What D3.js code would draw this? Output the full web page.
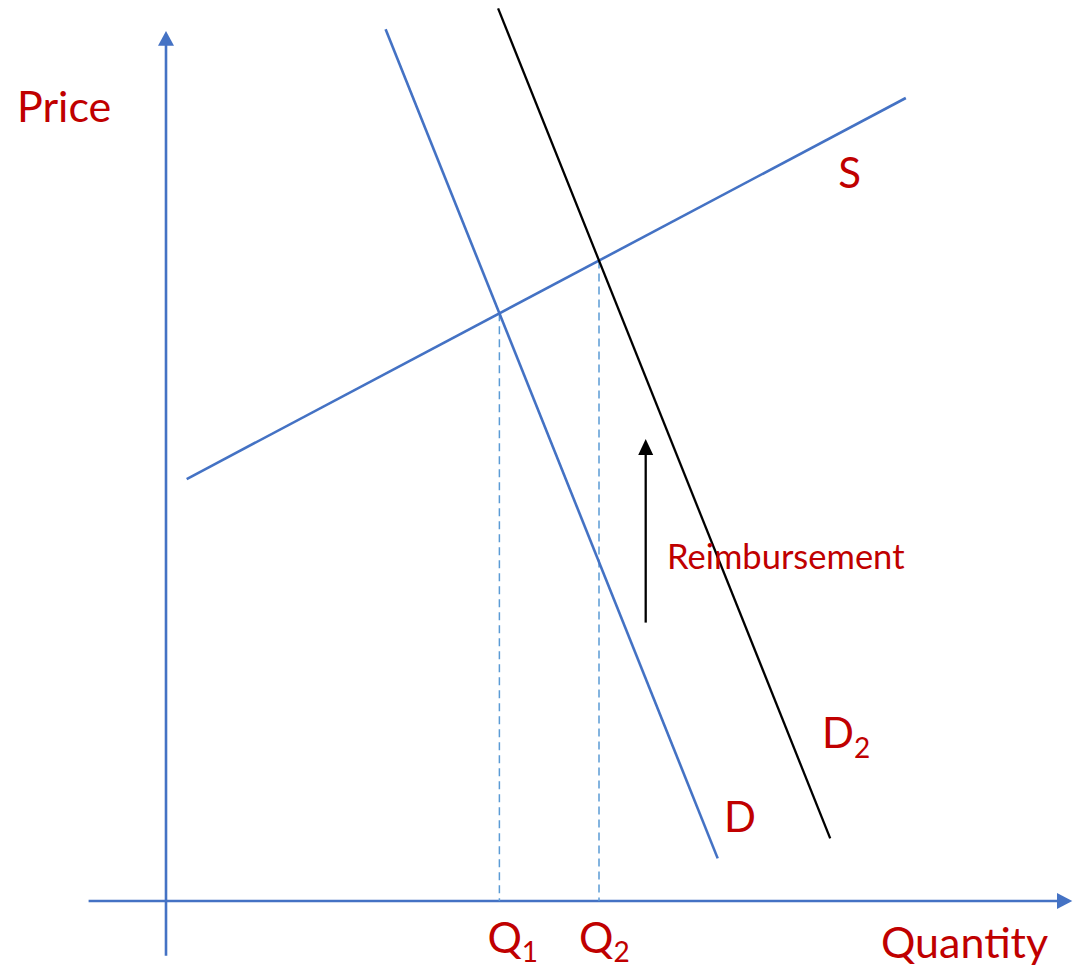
<!DOCTYPE html>
<html>
<head>
<meta charset="utf-8">
<script src="https://cdn.jsdelivr.net/npm/d3@7"></script>
<style>
  html, body { margin: 0; padding: 0; background: #fff; }
  svg { display: block; }
  text { font-family: Lato, "Open Sans", sans-serif; fill: #C00000; }
</style>
</head>
<body>
<svg id="chart" width="1083" height="968"></svg>
<script>
// ---- Data (abstract economic units: quantity 0-100, price 0-100) ----
const supplyLine   = [{q: 2.3, p: 48.5}, {q: 82.2, p: 92.3}];
const demandLine   = [{q: 24.4, p: 100.2}, {q: 61.3, p: 4.9}];
const demand2Line  = [{q: 36.9, p: 102.6}, {q: 73.8, p: 7.2}];
const quantityTicks = ["Q1", "Q2"];
const reimbursementArrow = [{q: 53.3, p: 32.0}, {q: 53.3, p: 53.1}];
const curveLabels = [
  {name: "S",  sub: "",  q: 74.7, p: 82.0},
  {name: "D",  sub: "",  q: 62.0, p: 7.9},
  {name: "D",  sub: "2", q: 72.9, p: 17.6}
];

// ---- Layout ----
const svg = d3.select("#chart");
const x = d3.scaleLinear().domain([0, 100]).range([166, 1066]);
const y = d3.scaleLinear().domain([0, 100]).range([901, 31]);

const BLUE = "#4472C4", DASH = "#5B9BD5";

function intersect(a, b) {
  const [p1, p2] = a, [p3, p4] = b;
  const m1 = (p2.p - p1.p) / (p2.q - p1.q), m2 = (p4.p - p3.p) / (p4.q - p3.q);
  const q = (p3.p - p1.p + m1 * p1.q - m2 * p3.q) / (m1 - m2);
  return {q, p: p1.p + m1 * (q - p1.q)};
}
const eqs = [intersect(supplyLine, demandLine), intersect(supplyLine, demand2Line)];

const line = d3.line().x(d => x(d.q)).y(d => y(d.p));

// ---- Axes ----
svg.append("line")
  .attr("x1", x(0)).attr("x2", x(0))
  .attr("y1", y(-6.3)).attr("y2", y(99.0))
  .attr("stroke", BLUE).attr("stroke-width", 2.6);
svg.append("path")
  .attr("d", `M${x(0)},${y(100)} L${x(0) - 8},${y(98.3)} L${x(0) + 8},${y(98.3)} Z`)
  .attr("fill", BLUE);
svg.append("line")
  .attr("x1", x(-8.6)).attr("x2", x(99.0))
  .attr("y1", y(0)).attr("y2", y(0))
  .attr("stroke", BLUE).attr("stroke-width", 2.6);
svg.append("path")
  .attr("d", `M${x(100.7)},${y(0)} L${x(99.0)},${y(0) - 8} L${x(99.0)},${y(0) + 8} Z`)
  .attr("fill", BLUE);

// ---- Dashed guides ----
svg.selectAll("line.guide").data(eqs).enter().append("line")
  .attr("class", "guide")
  .attr("x1", d => x(d.q)).attr("x2", d => x(d.q))
  .attr("y1", d => y(d.p)).attr("y2", y(0))
  .attr("stroke", DASH).attr("stroke-width", 1.5)
  .attr("stroke-dasharray", "8,5");

// ---- Curves ----
svg.append("path").datum(supplyLine).attr("d", line)
  .attr("stroke", BLUE).attr("stroke-width", 2.6).attr("fill", "none");
svg.append("path").datum(demandLine).attr("d", line)
  .attr("stroke", BLUE).attr("stroke-width", 2.6).attr("fill", "none");
svg.append("path").datum(demand2Line).attr("d", line)
  .attr("stroke", "#000").attr("stroke-width", 2.3).attr("fill", "none");

// ---- Reimbursement arrow ----
const a0 = reimbursementArrow[0], a1 = reimbursementArrow[1];
svg.append("line")
  .attr("x1", x(a0.q)).attr("x2", x(a0.q))
  .attr("y1", y(a0.p)).attr("y2", y(a1.p) + 12)
  .attr("stroke", "#000").attr("stroke-width", 2.3);
svg.append("path")
  .attr("d", `M${x(a1.q)},${y(a1.p)} L${x(a1.q) - 7.5},${y(a1.p) + 16} L${x(a1.q) + 7.5},${y(a1.p) + 16} Z`)
  .attr("fill", "#000");
svg.append("text")
  .attr("x", 667).attr("y", 569)
  .attr("font-size", 34.5)
  .text("Reimbursement");

// ---- Axis titles ----
svg.append("text").attr("x", 17).attr("y", 122).attr("font-size", 43).text("Price");
svg.append("text").attr("x", 881).attr("y", 958).attr("font-size", 43).text("Quantity");

// ---- Quantity tick labels ----
const tickDx = [-12, -20];
quantityTicks.forEach((t, i) => {
  const tx = svg.append("text")
    .attr("x", x(eqs[i].q) + tickDx[i]).attr("y", 953)
    .attr("font-size", 43);
  tx.append("tspan").text(t[0]);
  tx.append("tspan").attr("font-size", 28).attr("dy", 9).text(t.slice(1));
});

// ---- Curve labels ----
curveLabels.forEach(l => {
  const t = svg.append("text")
    .attr("x", x(l.q)).attr("y", y(l.p))
    .attr("font-size", 42);
  t.append("tspan").text(l.name);
  if (l.sub) t.append("tspan").attr("font-size", 28).attr("dy", 10).text(l.sub);
});
</script>
</body>
</html>
